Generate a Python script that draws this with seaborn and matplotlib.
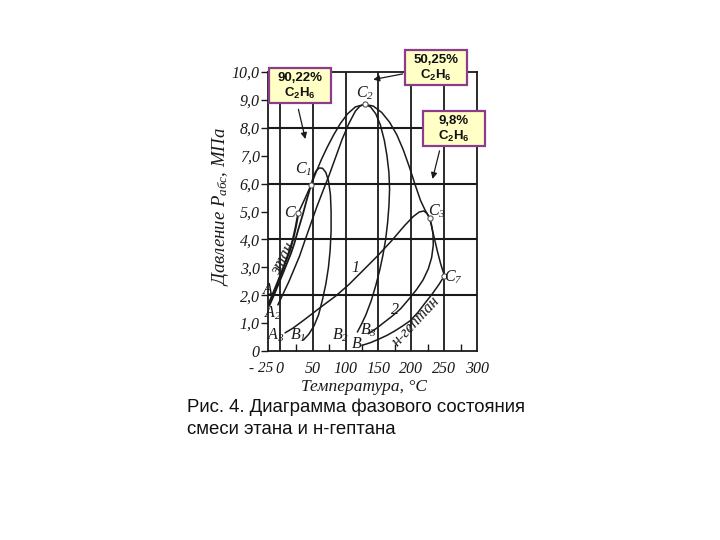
import matplotlib
matplotlib.use("Agg")
import matplotlib.pyplot as plt
import seaborn as sns
from matplotlib.patches import Rectangle

sns.set_theme(style="white")
plt.rcParams['font.family'] = ['Liberation Serif', 'DejaVu Serif']
plt.rcParams['mathtext.fontset'] = 'custom'
plt.rcParams['mathtext.rm'] = 'Liberation Serif:italic'
plt.rcParams['mathtext.it'] = 'Liberation Serif:italic'
plt.rcParams['mathtext.bf'] = 'Liberation Sans:bold'

# ---------------- data (T in °C, P in MPa) ----------------
ethane_T = [-17, -10, -3, 4, 10, 15, 20, 24, 28.3]
ethane_P = [1.68, 2.08, 2.48, 2.9, 3.28, 3.6, 4.0, 4.42, 4.96]

bub90_T = [-16, -9, -2, 5, 11, 17, 22, 28, 35, 41, 47.5]
bub90_P = [1.62, 2.0, 2.4, 2.8, 3.15, 3.5, 3.85, 4.35, 4.9, 5.42, 5.95]

dew90_T = [47.5, 51, 55, 60, 65, 70, 74, 77, 78, 78, 76.5, 74, 70, 65, 59, 52, 44, 36]
dew90_P = [5.95, 6.25, 6.45, 6.56, 6.55, 6.4, 6.1, 5.6, 5.0, 4.3, 3.6, 3.0, 2.4, 1.85, 1.3, 0.9, 0.6, 0.4]

bub50_T = [-3, 5, 14, 22, 30, 38, 47, 56, 65, 75, 85, 95, 105, 115, 122, 129]
bub50_P = [1.65, 2.05, 2.5, 2.95, 3.4, 3.95, 4.55, 5.15, 5.7, 6.3, 6.95, 7.6, 8.15, 8.6, 8.78, 8.84]

dew50_T = [129, 138, 146, 153, 159, 163, 166, 167, 166, 164, 161, 157, 152, 146, 139, 131, 124, 118]
dew50_P = [8.84, 8.75, 8.5, 8.1, 7.55, 7.0, 6.4, 5.8, 5.2, 4.6, 4.0, 3.45, 2.9, 2.35, 1.8, 1.3, 0.95, 0.68]

crit_T = [28.3, 38, 47.5, 55, 63, 72, 82, 92, 103, 115, 129, 142, 155, 167, 178, 188, 197, 206, 214, 221, 228, 234, 240, 245, 250.5]
crit_P = [4.96, 5.45, 5.95, 6.4, 6.85, 7.3, 7.75, 8.15, 8.5, 8.75, 8.84, 8.78, 8.55, 8.2, 7.75, 7.2, 6.6, 5.95, 5.4, 5.05, 4.76, 4.15, 3.55, 3.1, 2.7]

line1_T = [8, 20, 35, 50, 65, 85, 105, 125, 150, 170, 190, 203, 212, 219, 224, 228]
line1_P = [0.65, 0.82, 1.08, 1.35, 1.62, 1.97, 2.38, 2.85, 3.44, 3.95, 4.5, 4.82, 4.98, 5.02, 4.93, 4.76]

line2_T = [135, 148, 160, 172, 184, 196, 208, 218, 226, 231, 233.5, 233, 231, 228]
line2_P = [0.62, 0.83, 1.05, 1.27, 1.52, 1.85, 2.2, 2.55, 2.95, 3.35, 3.8, 4.2, 4.5, 4.76]

heptane_T = [125, 138, 150, 163, 175, 187, 198, 210, 221, 232, 242, 250.5]
heptane_P = [0.2, 0.3, 0.42, 0.56, 0.72, 0.9, 1.08, 1.38, 1.72, 2.05, 2.38, 2.7]

crit_pts_T = [28.3, 47.5, 129, 228, 250.5]
crit_pts_P = [4.96, 5.95, 8.84, 4.76, 2.7]

point_labels = ["$C$", "$C_1$", "$C_2$", "$C_3$", "$C_7$", "$A$", "$A_2$", "$A_3$",
                "$B_1$", "$B_2$", "$B_3$", "$B$", "$1$", "$2$"]
label_T = [15.6, 35.9, 130.3, 239, 264, -18.2, -10.6, -5.6, 27.3, 92.4, 135.3, 117.7, 115, 175.7]
label_P = [4.96, 6.51, 9.24, 4.99, 2.63, 2.19, 1.36, 0.57, 0.57, 0.57, 0.75, 0.24, 2.96, 1.47]

x_ticks = [0, 50, 100, 150, 200, 250, 300]
y_ticks = [0, 1, 2, 3, 4, 5, 6, 7, 8, 9, 10]
y_tick_labels = ["0", "1,0", "2,0", "3,0", "4,0", "5,0", "6,0", "7,0", "8,0", "9,0", "10,0"]

boxes = ["90,22%", "50,25%", "9,8%"]

# ---------------- figure ----------------
fig = plt.figure(figsize=(7.2, 5.4), dpi=100)
fig.patch.set_facecolor('white')
L, R, T_, B_ = 268, 477, 72, 351
ax = fig.add_axes([L / 720, 1 - B_ / 540, (R - L) / 720, (B_ - T_) / 540])
ax.set_facecolor('white')

# grid lines
for xv in [0, 50, 100, 150, 200, 250]:
    ax.axvline(xv, color='#1a1a1a', lw=1.3, zorder=1)
for yv in [2, 4, 6, 8]:
    ax.axhline(yv, color='#1a1a1a', lw=1.5, zorder=1)

curve_kw = dict(color='#1a1a1a', sort=False, estimator=None, ax=ax, legend=False)
sns.lineplot(x=ethane_T, y=ethane_P, lw=1.6, **curve_kw)
sns.lineplot(x=bub90_T, y=bub90_P, lw=1.3, **curve_kw)
sns.lineplot(x=dew90_T, y=dew90_P, lw=1.1, **curve_kw)
sns.lineplot(x=bub50_T, y=bub50_P, lw=1.1, **curve_kw)
sns.lineplot(x=dew50_T, y=dew50_P, lw=1.1, **curve_kw)
sns.lineplot(x=crit_T, y=crit_P, lw=1.1, **curve_kw)
sns.lineplot(x=line1_T, y=line1_P, lw=1.1, **curve_kw)
sns.lineplot(x=line2_T, y=line2_P, lw=1.1, **curve_kw)
sns.lineplot(x=heptane_T, y=heptane_P, lw=1.1, **curve_kw)

ax.scatter(crit_pts_T, crit_pts_P, s=14, facecolor='white', edgecolor='#555555',
           lw=0.8, zorder=5)

for lab, tx, py in zip(point_labels, label_T, label_P):
    ax.text(tx, py, lab, fontsize=11.5, ha='center', va='center', color='#1a1a1a',
            clip_on=False, zorder=6)

ax.text(6, 3.35, "этан", fontsize=11.5, style='italic', rotation=62, ha='center',
        va='center', color='#1a1a1a')
ax.text(207, 1.05, "н-гептан", fontsize=11.5, style='italic', rotation=47, ha='center',
        va='center', color='#1a1a1a')

ax.set_xlim(-18, 300)
ax.set_ylim(0, 10)
ax.set_xticks(x_ticks)
ax.set_xticklabels([str(v) for v in x_ticks], fontsize=11.5, style='italic')
ax.set_yticks(y_ticks)
ax.set_yticklabels(y_tick_labels, fontsize=11.5, style='italic')
ax.set_xticks([25, 75, 125, 175, 225, 275], minor=True)
ax.tick_params(axis='x', which='major', length=0, pad=7, colors='#1a1a1a')
ax.tick_params(axis='x', which='minor', length=5, direction='in', width=1.0,
               bottom=True, color='#1a1a1a')
ax.tick_params(axis='y', which='major', length=5, direction='out', width=1.0,
               left=True, pad=1, colors='#1a1a1a')
ax.text(-29, -0.62, "- 25", fontsize=11, style='italic', ha='center', va='center',
        color='#1a1a1a', clip_on=False)

for s in ax.spines.values():
    s.set_color('#1a1a1a')
    s.set_linewidth(1.3)

ax.set_xlabel("Температура, °C", fontsize=12.5, style='italic', color='#1a1a1a')
ax.xaxis.set_label_coords(0.46, -0.1)
ax.set_ylabel("Давление $P_{абс}$, МПа", fontsize=13.5, style='italic', color='#1a1a1a')
ax.yaxis.set_label_coords(-0.175, 0.52)

# arrows
arrow_kw = dict(arrowstyle='-|>', color='#1a1a1a', lw=0.9, mutation_scale=9)
ax.annotate('', xy=(39.8, 7.5), xytext=(27.3, 8.76), arrowprops=arrow_kw,
            annotation_clip=False)
ax.annotate('', xy=(138, 9.71), xytext=(191, 9.95), arrowprops=arrow_kw,
            annotation_clip=False)
ax.annotate('', xy=(231.3, 6.07), xytext=(244, 7.27), arrowprops=arrow_kw,
            annotation_clip=False)

# boxes (pixel positions)
box_px = [(269, 68, 62, 35), (405, 50, 62, 35), (423, 111, 62, 35)]
for (bx, by, bw, bh), pct in zip(box_px, boxes):
    fig.add_artist(Rectangle((bx / 720, 1 - (by + bh) / 540), bw / 720, bh / 540,
                             transform=fig.transFigure, facecolor='#FFFFC6',
                             edgecolor='#8C3C8C', lw=1.6, zorder=10))
    cx = (bx + bw / 2) / 720
    fig.text(cx, 1 - (by + 10) / 540, pct, fontsize=9.5, fontweight='bold',
             family='Liberation Sans', ha='center', va='center', zorder=11,
             color='#111111')
    fig.text(cx, 1 - (by + 25) / 540, r"$\mathbf{C_2H_6}$", fontsize=9.5,
             ha='center', va='center', zorder=11, color='#111111')

fig.text(187 / 720, 1 - 398 / 540,
         "Рис. 4. Диаграмма фазового состояния\nсмеси этана и н-гептана",
         fontsize=13.4, family='Liberation Sans', ha='left', va='top',
         linespacing=1.45, color='#111111')

fig.savefig("out.png", dpi=100, facecolor='white')
